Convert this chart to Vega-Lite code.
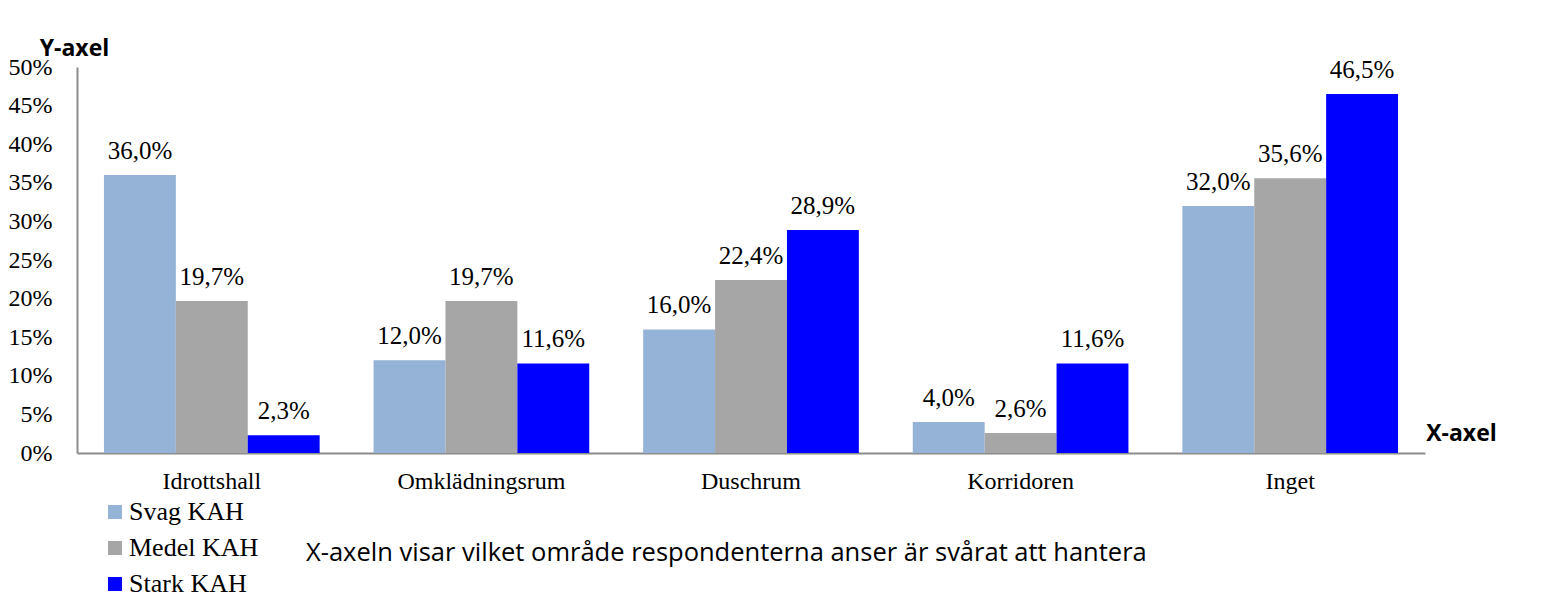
{
  "$schema": "https://vega.github.io/schema/vega-lite/v6.json",
  "width": 1348,
  "height": 386,
  "autosize": {"type": "none"},
  "padding": {"left": 77, "top": 67, "right": 120, "bottom": 157},
  "background": "white",
  "config": {
    "locale": {"number": {"decimal": ",", "thousands": " ", "grouping": [3], "currency": ["", " kr"]}},
    "view": {"stroke": null},
    "font": "Liberation Serif",
    "legend": {"labelFont": "Liberation Serif", "labelFontSize": 26, "labelColor": "black"}
  },
  "title": {
    "text": "X-axeln visar vilket område respondenterna anser är svårat att hantera",
    "orient": "bottom",
    "anchor": "start",
    "font": "Open Sans",
    "fontSize": 25.5,
    "fontWeight": "normal",
    "color": "black",
    "dx": 298,
    "offset": -56
  },
  "data": {
    "values": [
      {"omrade": "Idrottshall", "grupp": "Svag KAH", "andel": 0.360},
      {"omrade": "Idrottshall", "grupp": "Medel KAH", "andel": 0.197},
      {"omrade": "Idrottshall", "grupp": "Stark KAH", "andel": 0.023},
      {"omrade": "Omklädningsrum", "grupp": "Svag KAH", "andel": 0.120},
      {"omrade": "Omklädningsrum", "grupp": "Medel KAH", "andel": 0.197},
      {"omrade": "Omklädningsrum", "grupp": "Stark KAH", "andel": 0.116},
      {"omrade": "Duschrum", "grupp": "Svag KAH", "andel": 0.160},
      {"omrade": "Duschrum", "grupp": "Medel KAH", "andel": 0.224},
      {"omrade": "Duschrum", "grupp": "Stark KAH", "andel": 0.289},
      {"omrade": "Korridoren", "grupp": "Svag KAH", "andel": 0.040},
      {"omrade": "Korridoren", "grupp": "Medel KAH", "andel": 0.026},
      {"omrade": "Korridoren", "grupp": "Stark KAH", "andel": 0.116},
      {"omrade": "Inget", "grupp": "Svag KAH", "andel": 0.320},
      {"omrade": "Inget", "grupp": "Medel KAH", "andel": 0.356},
      {"omrade": "Inget", "grupp": "Stark KAH", "andel": 0.465}
    ]
  },
  "encoding": {
    "x": {
      "field": "omrade",
      "type": "nominal",
      "sort": null,
      "scale": {"paddingInner": 0.2, "paddingOuter": 0.1},
      "axis": {
        "title": "X-axel",
        "titleFont": "Open Sans",
        "titleFontWeight": "bold",
        "titleFontSize": 23,
        "titleX": 1384,
        "titleY": -20,
        "titleAlign": "center",
        "titleBaseline": "middle",
        "labelAngle": 0,
        "labelFont": "Liberation Serif",
        "labelFontSize": 24,
        "labelColor": "black",
        "labelPadding": 16,
        "ticks": false,
        "domainColor": "#8c8c8c",
        "domainWidth": 2
      }
    },
    "xOffset": {"field": "grupp", "type": "nominal", "sort": ["Svag KAH", "Medel KAH", "Stark KAH"], "scale": {"paddingInner": 0, "paddingOuter": 0}},
    "y": {
      "field": "andel",
      "type": "quantitative",
      "scale": {"domain": [0, 0.5]},
      "axis": {
        "title": "Y-axel",
        "titleFont": "Open Sans",
        "titleFontWeight": "bold",
        "titleFontSize": 23,
        "titleAngle": 0,
        "titleX": -3,
        "titleY": -19,
        "titleAlign": "center",
        "titleBaseline": "middle",
        "format": ".0%",
        "values": [0, 0.05, 0.1, 0.15, 0.2, 0.25, 0.3, 0.35, 0.4, 0.45, 0.5],
        "labelFont": "Liberation Serif",
        "labelFontSize": 24,
        "labelColor": "black",
        "labelPadding": 25,
        "ticks": false,
        "grid": false,
        "domainColor": "#8c8c8c",
        "domainWidth": 2
      }
    }
  },
  "layer": [
    {
      "mark": {"type": "bar"},
      "encoding": {
        "color": {
          "field": "grupp",
          "type": "nominal",
          "sort": ["Svag KAH", "Medel KAH", "Stark KAH"],
          "scale": {"domain": ["Svag KAH", "Medel KAH", "Stark KAH"], "range": ["#95B3D7", "#A6A6A6", "#0000FF"]},
          "legend": {
            "title": null,
            "orient": "none",
            "legendX": 25,
            "legendY": 432,
            "symbolType": "square",
            "symbolSize": 196,
            "symbolStrokeWidth": 0,
            "labelFont": "Liberation Serif",
            "labelFontSize": 26,
            "labelColor": "black",
            "labelOffset": 1,
            "rowPadding": 10
          }
        }
      }
    },
    {
      "mark": {"type": "text", "baseline": "bottom", "dy": -11, "font": "Liberation Serif", "fontSize": 25, "color": "black"},
      "encoding": {
        "text": {"field": "andel", "type": "quantitative", "format": ".1%"}
      }
    }
  ]
}
